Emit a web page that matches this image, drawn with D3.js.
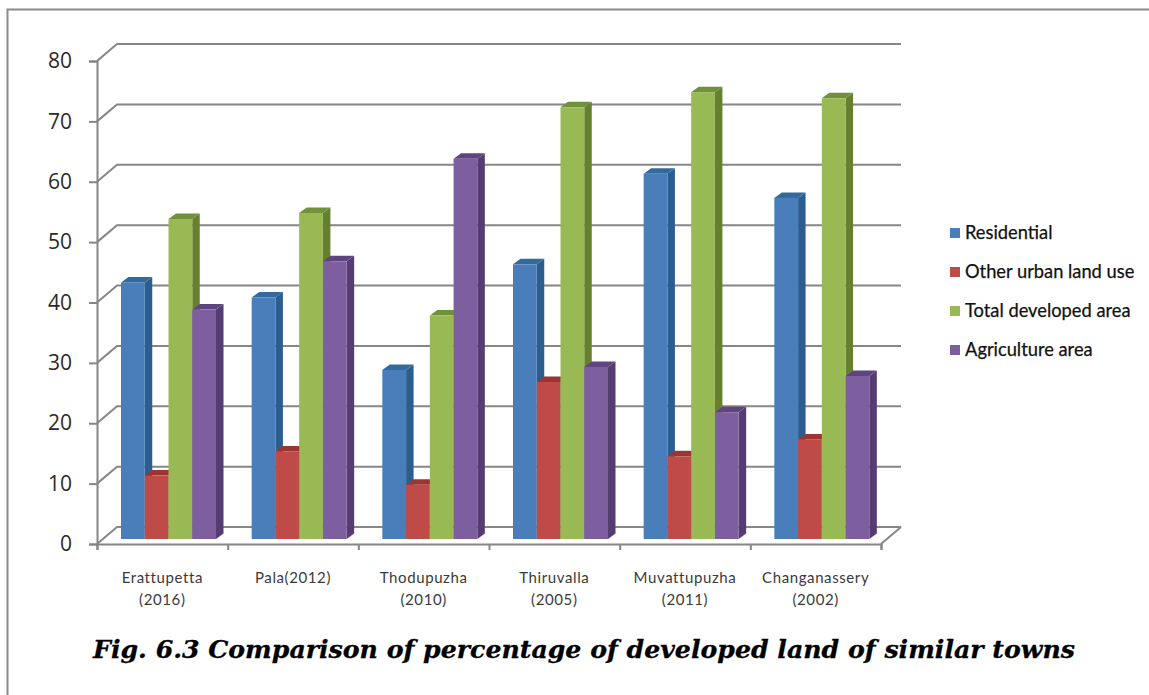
<!DOCTYPE html>
<html><head><meta charset="utf-8">
<script src="https://cdn.jsdelivr.net/npm/d3@7/dist/d3.min.js"></script>
<style>html,body{margin:0;background:#fff}svg{display:block}</style></head>
<body><svg id="c" width="1149" height="695"></svg>
<script>
const categories = [["Erattupetta","(2016)"],["Pala(2012)"],["Thodupuzha","(2010)"],["Thiruvalla","(2005)"],["Muvattupuzha","(2011)"],["Changanassery","(2002)"]];
const seriesNames = ["Residential","Other urban land use","Total developed area","Agriculture area"];
const residential = [42.5,40,28,45.5,60.5,56.5];
const otherUrban = [10.5,14.5,9,26,13.7,16.5];
const totalDeveloped = [53,54,37,71.5,74,73];
const agriculture = [38,46,63,28.5,21,27];
const yTicks = [0,10,20,30,40,50,60,70,80];
const frontColors = ["#4a7ebb","#be4b48","#98b954","#7d5fa0"];
const sideColors = ["#2c5d8f","#8f2e2c","#66802f","#553c72"];
const topColors = ["#336a9e","#9c3432","#70903a","#5f4580"];
const title = "Fig. 6.3 Comparison of percentage of developed land of similar towns";
const allSeries = [residential,otherUrban,totalDeveloped,agriculture];

const svg = d3.select("#c");
const gray = "#868686";
const sans = "Lato,'Open Sans',sans-serif";
const dxWall = 20, dyWall = -17, barDx = 7.5, barDy = -5.5;

svg.append("path").attr("d","M7.5,695V9.5H1149").attr("fill","none").attr("stroke","#8a8a8a").attr("stroke-width",2);

const y = d3.scaleLinear().domain([0,80]).range([544,61]);
const yBar = d3.scaleLinear().domain([0,80]).range([539,56]);
const x0 = d3.scaleBand().domain(categories.map(d=>d[0])).range([97,881]);
const x1 = d3.scaleBand().domain(seriesNames).range([24,119]);

const grid = svg.append("g").attr("fill","none").attr("stroke",gray).attr("stroke-width",2);
yTicks.forEach(t=>{
  grid.append("polyline").attr("points",[[97,y(t)],[97+dxWall,y(t)+dyWall],[881+dxWall,y(t)+dyWall]].join(" "));
});
grid.append("line").attr("x1",881).attr("y1",544).attr("x2",881+dxWall).attr("y2",544+dyWall);

const yAxis = d3.axisLeft(y).tickValues(yTicks).tickSize(8).tickPadding(17);
const gy = svg.append("g").attr("transform","translate(97,0)").call(yAxis);
gy.selectAll("path,line").attr("stroke",gray).attr("stroke-width",2);
gy.selectAll("text").attr("font-family","'Open Sans',sans-serif").attr("font-size",21).attr("fill","#2a2a2a");

const xAxis = d3.axisBottom(d3.scaleLinear().domain([0,6]).range([97,881])).ticks(6).tickSize(6).tickFormat("");
const gx = svg.append("g").attr("transform","translate(0,544)").call(xAxis);
gx.selectAll("path,line").attr("stroke",gray).attr("stroke-width",2);

categories.forEach((c,i)=>{
  const g = svg.append("g");
  allSeries.forEach((vals,s)=>{
    const name = seriesNames[s];
    const xa = x0(c[0]) + x1(name), w = x1.bandwidth(), ya = yBar(vals[i]), yb = yBar(0);
    g.append("polygon").attr("fill",sideColors[s])
      .attr("points",[[xa+w,ya],[xa+w+barDx,ya+barDy],[xa+w+barDx,yb+barDy],[xa+w,yb]].join(" "));
    g.append("polygon").attr("fill",topColors[s])
      .attr("points",[[xa,ya],[xa+barDx,ya+barDy],[xa+w+barDx,ya+barDy],[xa+w,ya]].join(" "));
    g.append("rect").attr("fill",frontColors[s]).attr("x",xa).attr("y",ya).attr("width",w).attr("height",yb-ya);
  });
  c.forEach((line,k)=>{
    svg.append("text").attr("x",x0(c[0])+x0.bandwidth()/2).attr("y",583+k*22)
      .attr("text-anchor","middle").attr("font-family",sans).attr("font-size",15).attr("letter-spacing",0.6).attr("fill","#3a3a3a").text(line);
  });
});

const legendY = d3.scalePoint().domain(seriesNames).range([233,350]);
seriesNames.forEach((n,s)=>{
  svg.append("rect").attr("x",950).attr("y",legendY(n)-5).attr("width",10).attr("height",10).attr("fill",frontColors[s]);
  svg.append("text").attr("x",965).attr("y",legendY(n)+6).attr("font-family",sans).attr("font-size",18.3).attr("fill","#111").attr("stroke","#111").attr("stroke-width",0.25).text(n);
});

svg.append("text").attr("x",93).attr("y",658).attr("font-family","'DejaVu Serif',serif").attr("font-weight","bold").attr("font-style","italic")
  .attr("font-size",25).attr("fill","#000").attr("stroke","#000").attr("stroke-width",0.3).attr("textLength",982).attr("lengthAdjust","spacingAndGlyphs").text(title);
</script></body></html>
